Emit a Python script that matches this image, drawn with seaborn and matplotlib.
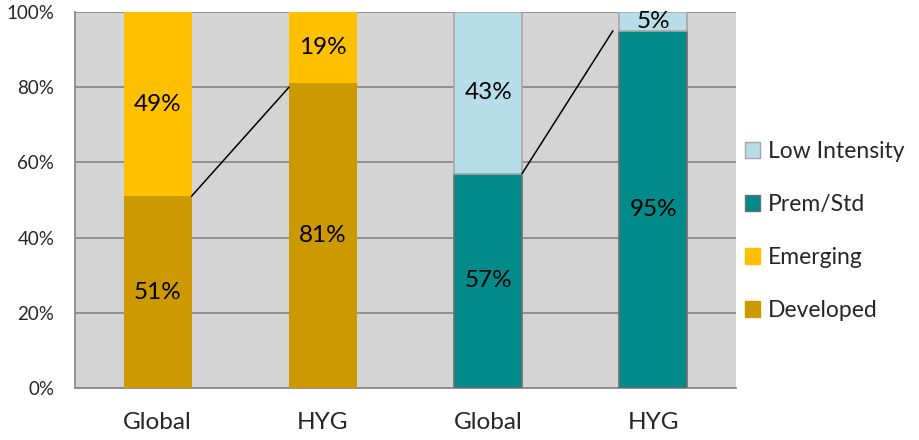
import matplotlib
matplotlib.use("Agg")
import matplotlib.pyplot as plt
import matplotlib.patches as mpatches
import pandas as pd
import numpy as np
import seaborn as sns

# data
slots = ["0", "1", "2", "3"]
slot_labels = ["Global", "HYG", "Global", "HYG"]
developed = [51, 81, 0, 0]
emerging = [49, 19, 0, 0]
prem_std = [0, 0, 57, 95]
low_intensity = [0, 0, 43, 5]

colors = {
    "Developed": "#cc9900",
    "Emerging": "#ffc000",
    "Prem/Std": "#008b8a",
    "Low Intensity": "#b7dee8",
}
edges = {
    "Developed": "none",
    "Emerging": "none",
    "Prem/Std": "#6f6f6f",
    "Low Intensity": "#a6a6a6",
}

sns.set_style("white")
plt.rcParams["font.family"] = ["Lato", "DejaVu Sans"]

fig = plt.figure(figsize=(9.19, 4.4), dpi=100)
ax = fig.add_axes([75 / 919, 52 / 440, 661 / 919, 376 / 440])
ax.set_facecolor("#d4d4d4")

bar_w = 0.41
layers = [("Developed", developed, [0, 0, 0, 0]),
          ("Emerging", emerging, developed),
          ("Prem/Std", prem_std, [0, 0, 0, 0]),
          ("Low Intensity", low_intensity, prem_std)]

for name, vals, base in layers:
    df = pd.DataFrame({"slot": slots, "val": vals, "base": base})
    df = df[df["val"] > 0]
    sns.barplot(data=df, x="slot", y="val", order=slots, color=colors[name],
                bottom=df["base"].values, width=bar_w, saturation=1,
                edgecolor=edges[name], linewidth=1.2 if edges[name] != "none" else 0,
                ax=ax, zorder=3)
    for _, r in df.iterrows():
        i = slots.index(r["slot"])
        y = r["base"] + r["val"] / 2
        ax.text(i, y, f"{r['val']}%", ha="center", va="center",
                fontsize=17.5, color="black", zorder=5)

# connector lines between the bars
ax.plot([0 + bar_w / 2, 1 - bar_w / 2], [developed[0], developed[1] - 1],
        color="black", lw=1.1, zorder=4)
ax.plot([2 + bar_w / 2, 3 - bar_w / 2 - 0.04], [prem_std[2], prem_std[3]],
        color="black", lw=1.1, zorder=4)

ax.set_xlim(-0.5, 3.5)
ax.set_ylim(0, 100)
ax.set_yticks([0, 20, 40, 60, 80, 100])
ax.set_yticklabels([f"{v}%" for v in range(0, 101, 20)], fontsize=13.5)
ax.yaxis.grid(True, color="#8a8a8a", lw=1.3, zorder=1)
ax.set_axisbelow(True)

ax.set_xticks([0, 1, 2, 3])
ax.set_xticklabels(slot_labels, fontsize=17.5)
ax.set_xticks([-0.5, 0.5, 1.5, 2.5, 3.5], minor=True)
ax.tick_params(axis="x", which="major", length=0, pad=17)
ax.tick_params(axis="x", which="minor", length=7, width=1.3, color="#8a8a8a", direction="out")
ax.tick_params(axis="y", length=7, width=1.3, color="#8a8a8a", pad=8)
ax.set_xlabel("")
ax.set_ylabel("")

for s in ["top", "right"]:
    ax.spines[s].set_visible(False)
for s in ["left", "bottom"]:
    ax.spines[s].set_color("#8a8a8a")
    ax.spines[s].set_linewidth(1.3)

handles = [mpatches.Patch(facecolor=colors[n], edgecolor=edges[n] if edges[n] != "none" else colors[n], label=n)
           for n in ["Low Intensity", "Prem/Std", "Emerging", "Developed"]]
fig.legend(handles=handles, loc="center left", bbox_to_anchor=(724 / 919, 209 / 440),
           frameon=False, fontsize=16.5, handlelength=0.66, handleheight=0.66,
           handletextpad=0.35, labelspacing=1.4)

fig.savefig("out.png", dpi=100)
